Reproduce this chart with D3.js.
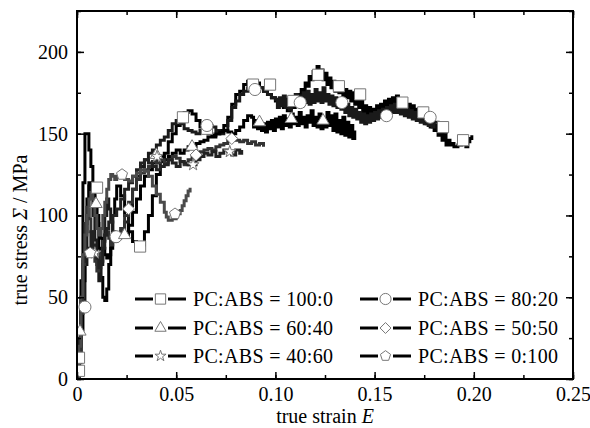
<!DOCTYPE html>
<html>
<head>
<meta charset="utf-8">
<script src="https://cdn.jsdelivr.net/npm/d3@7"></script>
<style>
  body { margin: 0; background: #fff; }
</style>
</head>
<body>
<div id="chart"></div>
<script>
// series labels
const labels = ["PC:ABS=100:0", "PC:ABS=80:20", "PC:ABS=60:40",
                "PC:ABS=50:50", "PC:ABS=40:60", "PC:ABS=0:100"];

// [true strain, true stress]
const pc100 = [[0,0],[0.001,13],[0.002,60],[0.003,120],[0.004,150],[0.005,150],[0.006,140],[0.007,130],[0.008,118],[0.009,105],[0.010,95],[0.011,80],[0.012,62],[0.013,50],[0.014,48],[0.015,55],[0.016,70],[0.017,85],[0.018,100],[0.019,110],[0.020,118],[0.022,112],[0.024,100],[0.026,90],[0.028,84],[0.030,80],[0.032,82],[0.034,90],[0.036,100],[0.038,112],[0.040,125],[0.042,133],[0.044,138],[0.046,145],[0.048,150],[0.050,155],[0.052,160],[0.054,163],[0.056,164],[0.058,162],[0.060,158],[0.062,154],[0.064,152],[0.066,150],[0.068,149],[0.070,150],[0.072,152],[0.074,155],[0.076,160],[0.078,168],[0.080,174],[0.082,176],[0.084,180],[0.086,182],[0.088,180],[0.090,181],[0.092,178],[0.094,176],[0.096,174],[0.098,172],[0.100,170],[0.102,168],[0.104,166],[0.106,164],[0.108,166],
  [0.110,170],[0.111,174],[0.112,171],[0.113,177],[0.114,175],[0.115,181],[0.116,179],[0.117,185],[0.118,183],[0.119,188],[0.120,185],[0.121,191],[0.122,186],[0.123,189],[0.124,183],[0.125,187],[0.126,180],[0.127,184],[0.128,178],[0.129,182],[0.130,176],[0.131,181],[0.132,175],[0.133,179],[0.134,173],[0.135,177],[0.136,172],[0.137,176],[0.138,170],[0.139,175],[0.140,168],[0.141,172],[0.142,166],[0.143,170],[0.144,163],[0.145,167],[0.146,161],[0.147,166],[0.148,160],[0.149,165],[0.150,161],[0.151,167],[0.152,162],[0.153,168],[0.154,163],[0.155,170],[0.156,165],[0.157,171],[0.158,166],[0.159,172],[0.160,167],[0.161,173],[0.162,166],[0.163,171],[0.164,165],[0.165,170],[0.166,164],[0.167,168],[0.168,162],[0.169,167],[0.170,161],[0.171,165],[0.172,159],[0.173,164],[0.174,158],[0.175,162],[0.176,156],[0.177,160],[0.178,154],[0.179,158],[0.180,152],[0.181,155],[0.182,149],[0.183,153],[0.184,146],[0.185,150],[0.186,143],[0.187,146],[0.188,143],[0.189,144],[0.190,142],[0.192,143],[0.194,144],[0.196,142],[0.197,145],[0.198,147],[0.199,149]];
const pc80 = [[0,0],[0.001,20],[0.002,45],[0.003,44],[0.004,70],[0.005,100],[0.006,118],[0.007,112],[0.008,100],[0.009,85],[0.010,70],[0.011,60],[0.012,70],[0.013,85],[0.014,100],[0.015,110],[0.016,104],[0.017,96],[0.018,90],[0.019,87],[0.020,86],[0.022,88],[0.024,96],[0.026,106],[0.028,116],[0.030,124],[0.032,130],[0.034,134],[0.036,138],[0.038,140],[0.040,143],[0.042,146],[0.044,148],[0.046,152],[0.048,156],[0.050,158],[0.052,156],[0.054,153],[0.056,152],[0.058,151],[0.060,150],[0.062,152],[0.064,154],[0.066,155],[0.068,154],[0.070,152],[0.072,150],[0.074,152],[0.076,158],[0.078,166],[0.080,170],[0.082,174],[0.084,176],[0.086,178],[0.088,177],[0.090,176],[0.092,178],[0.094,176],[0.096,174],[0.098,172],
  [0.100,171],[0.101,166],[0.102,172],[0.103,167],[0.104,173],[0.105,166],[0.106,171],[0.107,165],[0.108,172],[0.109,167],[0.110,174],[0.111,168],[0.112,173],[0.113,167],[0.114,175],[0.115,169],[0.116,176],[0.117,168],[0.118,174],[0.119,169],[0.120,177],[0.121,170],[0.122,175],[0.123,169],[0.124,178],[0.125,170],[0.126,174],[0.127,168],[0.128,173],[0.129,167],[0.130,172],[0.131,166],[0.132,171],[0.133,165],[0.134,169],[0.135,163],[0.136,168],[0.137,161],[0.138,166],[0.139,160],[0.140,165],[0.141,159],[0.142,163],[0.143,157],[0.144,162],[0.145,156],[0.146,161],[0.147,157],[0.148,162],[0.149,158],[0.150,163],[0.151,159],[0.152,164],[0.153,160],[0.154,165],[0.155,161],[0.156,166],[0.157,162],[0.158,167],[0.159,163],[0.160,168],[0.161,163],[0.162,167],[0.163,162],[0.164,166],[0.165,161],[0.166,165],[0.167,160],[0.168,164],[0.169,159],[0.170,163],[0.171,158],[0.172,162],[0.173,157],[0.174,161],[0.175,156],[0.176,160],[0.177,155],[0.178,159],[0.179,154],[0.180,157],[0.182,153],[0.184,155],[0.186,150]];
const pc60 = [[0,0],[0.001,10],[0.002,30],[0.003,60],[0.004,90],[0.005,110],[0.006,120],[0.007,118],[0.008,112],[0.009,107],[0.010,100],[0.011,92],[0.012,86],[0.013,80],[0.014,76],[0.015,74],[0.016,76],[0.017,80],[0.018,84],[0.020,88],[0.022,90],[0.024,88],[0.026,94],[0.028,102],[0.030,110],[0.032,118],[0.034,124],[0.036,128],[0.038,132],[0.040,136],[0.042,136],[0.044,134],[0.046,136],[0.048,138],[0.050,140],[0.052,138],[0.054,140],[0.056,142],[0.058,142],[0.060,144],[0.062,145],[0.064,146],[0.066,148],[0.068,148],[0.070,150],[0.072,151],[0.074,152],[0.076,151],[0.078,150],[0.080,152],[0.082,154],[0.084,158],[0.086,161],
  [0.088,160],[0.089,154],[0.090,158],[0.091,153],[0.092,157],[0.093,152],[0.094,156],[0.095,151],[0.096,157],[0.097,153],[0.098,158],[0.099,152],[0.100,159],[0.101,154],[0.102,160],[0.103,153],[0.104,161],[0.105,155],[0.106,159],[0.107,154],[0.108,162],[0.109,156],[0.110,160],[0.111,155],[0.112,163],[0.113,156],[0.114,160],[0.115,154],[0.116,161],[0.117,157],[0.118,164],[0.119,155],[0.120,160],[0.121,154],[0.122,162],[0.123,153],[0.124,159],[0.125,154],[0.126,163],[0.127,155],[0.128,161],[0.129,152],[0.130,162],[0.131,151],[0.132,158],[0.133,150],[0.134,160],[0.135,149],[0.136,157],[0.137,148],[0.138,155],[0.139,147],[0.140,152]];
const pc50 = [[0,0],[0.001,15],[0.002,40],[0.003,70],[0.004,95],[0.005,105],[0.006,98],[0.007,90],[0.008,80],[0.009,72],[0.010,66],[0.011,70],[0.012,78],[0.013,84],[0.014,88],[0.015,90],[0.016,86],[0.017,82],[0.018,84],[0.020,88],[0.022,92],[0.024,100],[0.026,108],[0.028,116],[0.030,122],[0.032,126],[0.034,128],[0.036,130],[0.038,133],[0.040,132],[0.042,134],[0.044,132],[0.046,134],[0.048,136],[0.050,135],[0.052,133],[0.054,131],[0.056,134],[0.058,136],[0.060,137],[0.062,139],[0.064,140],[0.066,141],[0.068,140],[0.070,142],[0.072,143],[0.074,144],[0.076,146],[0.078,147],[0.080,146],[0.082,145],[0.084,146],[0.086,144],[0.088,145],[0.090,143],[0.092,144],[0.094,142]];
const pc40 = [[0,0],[0.001,25],[0.002,50],[0.003,72],[0.004,78],[0.005,76],[0.006,80],[0.007,90],[0.008,82],[0.009,77],[0.010,74],[0.011,68],[0.012,72],[0.013,80],[0.014,88],[0.015,92],[0.016,96],[0.018,100],[0.020,104],[0.022,110],[0.024,116],[0.026,120],[0.028,124],[0.030,128],[0.032,132],[0.034,134],[0.036,132],[0.038,130],[0.040,128],[0.042,130],[0.044,131],[0.046,134],[0.048,132],[0.050,130],[0.052,133],[0.054,132],[0.056,131],[0.058,131],[0.060,134],[0.062,136],[0.064,138],[0.066,137],[0.068,139],[0.070,136],[0.072,138],[0.074,140],[0.076,139],[0.078,137],[0.080,140],[0.082,138],[0.083,140]];
const pc0 = [[0,0],[0.001,20],[0.002,50],[0.003,76],[0.004,88],[0.005,100],[0.006,110],[0.007,114],[0.008,110],[0.009,100],[0.010,92],[0.011,88],[0.012,92],[0.013,100],[0.014,108],[0.015,116],[0.016,122],[0.017,125],[0.018,124],[0.019,122],[0.020,124],[0.021,125],[0.022,124],[0.024,122],[0.026,121],[0.028,124],[0.030,126],[0.032,128],[0.034,127],[0.036,124],[0.038,118],[0.040,113],[0.042,108],[0.044,102],[0.045,99],[0.046,97],[0.048,98],[0.050,101],[0.052,103],[0.053,106],[0.054,109],[0.055,112],[0.056,115],[0.057,117]];

// marker positions [strain, stress]
const mk100 = [[0.001,5],[0.001,13],[0.0101,117],[0.0318,81],[0.0534,160],[0.0655,153],[0.0887,180],[0.0973,180],[0.109,170],[0.1215,186],[0.132,179],[0.1427,174],[0.164,169],[0.1745,163],[0.1845,154],[0.1946,146]];
const mk80 = [[0.004,44],[0.0197,87],[0.0655,155],[0.0897,177],[0.1125,169],[0.1335,169],[0.156,161],[0.178,160]];
const mk60 = [[0.0015,29],[0.0096,107],[0.024,88],[0.040,137],[0.058,142],[0.092,157],[0.108,159],[0.124,158]];
const mk50 = [[0.026,104],[0.060,137],[0.078,147]];
const mk40 = [[0.009,77],[0.0403,136],[0.0585,131],[0.077,139]];
const mk0 = [[0.0066,77],[0.0227,125],[0.0494,101]];

const xTicks = [0, 0.05, 0.10, 0.15, 0.20, 0.25];
const yTicks = [0, 50, 100, 150, 200];

const W = 590, H = 428;
const m = {left: 77, right: 17, top: 11, bottom: 49};
const serif = "'Liberation Serif', 'Times New Roman', Tinos, serif";

const svg = d3.select("#chart").append("svg")
    .attr("width", W)
    .attr("height", H)
    .attr("font-family", serif);

const x = d3.scaleLinear().domain([0, 0.25]).range([m.left, W - m.right]);
const y = d3.scaleLinear().domain([0, 225]).range([H - m.bottom, m.top]);

const lineColors = ["#000", "#1a1a1a", "#000", "#333", "#222", "#4a4a4a"];
const series = [pc100, pc80, pc60, pc50, pc40, pc0];
const marks = [mk100, mk80, mk60, mk50, mk40, mk0];

// marker shapes
const pentagon = {
  draw(ctx, size) {
    const r = Math.sqrt(size / 2.38);
    for (let i = 0; i < 5; i++) {
      const a = -Math.PI / 2 + i * 2 * Math.PI / 5;
      if (i === 0) ctx.moveTo(r * Math.cos(a), r * Math.sin(a));
      else ctx.lineTo(r * Math.cos(a), r * Math.sin(a));
    }
    ctx.closePath();
  }
};
const diamond = {
  draw(ctx, size) {
    const r = Math.sqrt(size / 2);
    ctx.moveTo(0, -r); ctx.lineTo(r, 0); ctx.lineTo(0, r); ctx.lineTo(-r, 0);
    ctx.closePath();
  }
};
const shapes = [d3.symbolSquare, d3.symbolCircle, d3.symbolTriangle, diamond, d3.symbolStar, pentagon];
const sizes = [125, 115, 65, 70, 45, 80];

svg.append("clipPath").attr("id", "clip")
  .append("rect")
    .attr("x", m.left).attr("y", m.top)
    .attr("width", W - m.left - m.right)
    .attr("height", H - m.top - m.bottom);

const line = d3.line()
    .x(d => x(d[0]))
    .y(d => y(d[1]))
    .curve(d3.curveStepAfter);

const plot = svg.append("g").attr("clip-path", "url(#clip)");

series.forEach((s, i) => {
  plot.append("path")
    .datum(s)
    .attr("fill", "none")
    .attr("stroke", lineColors[i])
    .attr("stroke-width", 3)
    .attr("d", line);
});

marks.forEach((mk, i) => {
  plot.selectAll(".m" + i)
    .data(mk)
    .enter().append("path")
    .attr("transform", d => "translate(" + x(d[0]) + "," + y(d[1]) + ")")
    .attr("d", d3.symbol().type(shapes[i]).size(sizes[i]))
    .attr("fill", "#fff")
    .attr("stroke", "#777")
    .attr("stroke-width", 1);
});

// axes with inward ticks on all four sides
const xMinor = d3.range(0, 0.2501, 0.025);
const yMinor = d3.range(0, 226, 25);

function axisGroup(axis, tr) {
  return svg.append("g").attr("transform", tr).call(axis)
    .attr("font-family", null)
    .call(g => g.select(".domain").remove())
    .call(g => g.selectAll("line").attr("stroke", "#000").attr("stroke-width", 1.5));
}

axisGroup(d3.axisBottom(x).tickValues(xMinor).tickSize(-4).tickFormat(""), "translate(0," + (H - m.bottom) + ")");
axisGroup(d3.axisTop(x).tickValues(xMinor).tickSize(-4).tickFormat(""), "translate(0," + m.top + ")");
axisGroup(d3.axisLeft(y).tickValues(yMinor).tickSize(-4).tickFormat(""), "translate(" + m.left + ",0)");
axisGroup(d3.axisRight(y).tickValues(yMinor).tickSize(-4).tickFormat(""), "translate(" + (W - m.right) + ",0)");

axisGroup(d3.axisBottom(x).tickValues(xTicks).tickSize(-7).tickPadding(8)
    .tickFormat(d => d === 0 ? "0" : d3.format(".2f")(d)), "translate(0," + (H - m.bottom) + ")");
axisGroup(d3.axisTop(x).tickValues(xTicks).tickSize(-7).tickFormat(""), "translate(0," + m.top + ")");
axisGroup(d3.axisLeft(y).tickValues(yTicks).tickSize(-7).tickPadding(9), "translate(" + m.left + ",0)");
axisGroup(d3.axisRight(y).tickValues(yTicks).tickSize(-7).tickFormat(""), "translate(" + (W - m.right) + ",0)");

svg.selectAll(".tick text")
    .attr("font-size", 20)
    .attr("fill", "#000");

// frame
svg.append("rect")
    .attr("x", m.left).attr("y", m.top)
    .attr("width", W - m.left - m.right)
    .attr("height", H - m.top - m.bottom)
    .attr("fill", "none")
    .attr("stroke", "#000")
    .attr("stroke-width", 2);

// axis titles
const xt = svg.append("text")
    .attr("x", (m.left + W - m.right) / 2)
    .attr("y", 423)
    .attr("text-anchor", "middle")
    .attr("font-size", 20);
xt.append("tspan").text("true strain ");
xt.append("tspan").attr("font-style", "italic").text("E");

const yt = svg.append("text")
    .attr("transform", "translate(27,230) rotate(-90)")
    .attr("text-anchor", "middle")
    .attr("font-size", 20);
yt.append("tspan").text("true stress ");
yt.append("tspan").attr("font-style", "italic").text("Σ");
yt.append("tspan").text(" / MPa");

// legend, two columns of three
const legendPos = [[135, 299], [360, 299], [135, 328], [360, 328], [135, 356], [360, 356]];
labels.forEach((lab, i) => {
  const [lx, ly] = legendPos[i];
  const g = svg.append("g").attr("transform", "translate(" + lx + "," + ly + ")");
  g.append("line").attr("x1", 0).attr("x2", 18).attr("y1", 0).attr("y2", 0)
    .attr("stroke", "#000").attr("stroke-width", 3);
  g.append("line").attr("x1", 33).attr("x2", 51).attr("y1", 0).attr("y2", 0)
    .attr("stroke", "#000").attr("stroke-width", 3);
  g.append("path")
    .attr("transform", "translate(25.5,0)")
    .attr("d", d3.symbol().type(shapes[i]).size(sizes[i] * 0.85))
    .attr("fill", "#fff").attr("stroke", "#777").attr("stroke-width", 1);
  g.append("text")
    .attr("x", 58).attr("y", 7)
    .attr("font-size", 20)
    .attr("textLength", 140)
    .attr("lengthAdjust", "spacing")
    .text(lab.replace("=", " = "));
});

svg.selectAll("text").style("font-family", serif);
</script>
</body>
</html>
